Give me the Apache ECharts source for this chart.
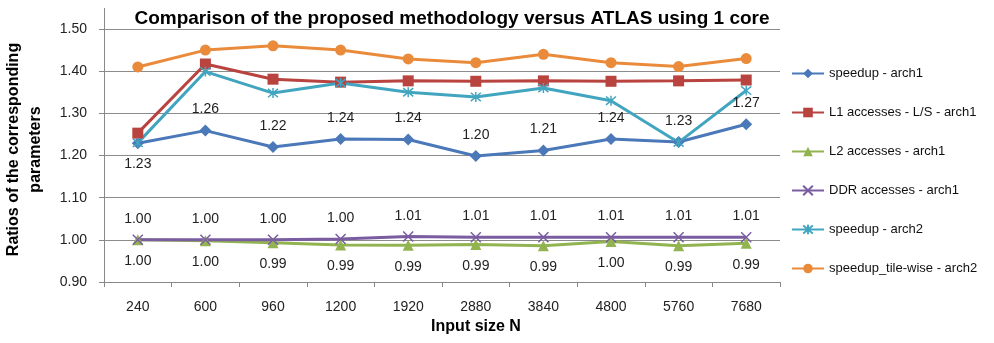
<!DOCTYPE html>
<html>
<head>
<meta charset="utf-8">
<script src="https://cdn.jsdelivr.net/npm/echarts@6/dist/echarts.min.js"></script>
<style>html,body{margin:0;padding:0;background:#fff}#c{width:994px;height:343px}</style>
</head>
<body>
<div id="c"></div>
<script>
const categories = ['240','600','960','1200','1920','2880','3840','4800','5760','7680'];
const speedupArch1 = [1.229,1.259,1.220,1.239,1.238,1.199,1.212,1.239,1.232,1.274];
const l1Arch1 = [1.253,1.417,1.381,1.374,1.377,1.376,1.377,1.376,1.377,1.379];
const l2Arch1 = [1.000,0.998,0.993,0.988,0.987,0.989,0.986,0.996,0.986,0.992];
const ddrArch1 = [1.000,1.000,1.000,1.002,1.008,1.006,1.006,1.006,1.006,1.006];
const speedupArch2 = [1.230,1.399,1.348,1.372,1.350,1.339,1.360,1.330,1.231,1.354];
const tileArch2 = [1.410,1.450,1.460,1.450,1.429,1.420,1.440,1.420,1.411,1.430];
const seriesNames = ['speedup - arch1','L1 accesses - L/S - arch1','L2 accesses - arch1','DDR accesses - arch1','speedup - arch2','speedup_tile-wise - arch2'];
const yTicks = {min:0.9, max:1.5, interval:0.1};

const FONT = '"Liberation Sans", Arial, sans-serif';
const colors = ['#4A78B8','#B8433F','#92B450','#7A5CA0','#42A5C0','#EA8B3C'];
const xPath = 'path://M0,0L10,10M10,0L0,10';
const starPath = 'path://M0,0L10,10M10,0L0,10M5,-1L5,11';

const lbl = {show:true, fontFamily:FONT, fontSize:14, color:'#222', formatter:p=>p.value.toFixed(2)};

const chart = echarts.init(document.getElementById('c'), null, {renderer:'canvas'});
chart.setOption({
  animation:false,
  color:colors,
  title:{text:'Comparison of the proposed methodology versus ATLAS using 1 core', left:447, top:4, textAlign:'center',
    textStyle:{fontFamily:FONT, fontSize:19, fontWeight:'bold', color:'#000'}},
  grid:{left:104, right:214, top:29, bottom:61, containLabel:false, outerBoundsMode:'none'},
  legend:{orient:'vertical', left:786, top:62, itemGap:26, itemWidth:32, itemHeight:12,
    textStyle:{fontFamily:FONT, fontSize:13, color:'#111'}, data:seriesNames},
  xAxis:{type:'category', data:categories, boundaryGap:true,
    name:'Input size N', nameLocation:'middle', nameGap:35,
    nameTextStyle:{fontFamily:FONT, fontSize:16, fontWeight:'bold', color:'#000', padding:[0,0,0,68]},
    axisLine:{lineStyle:{color:'#888', width:1}},
    axisTick:{show:true, length:5, lineStyle:{color:'#888'}},
    axisLabel:{fontFamily:FONT, fontSize:14, color:'#222', margin:18}},
  yAxis:{type:'value', min:yTicks.min, max:yTicks.max, interval:yTicks.interval,
    name:'Ratios of the corresponding\nparameters', nameLocation:'middle', nameGap:57, nameRotate:90,
    nameTextStyle:{fontFamily:FONT, fontSize:16, fontWeight:'bold', color:'#000', lineHeight:22, padding:[0,0,0,12]},
    axisLine:{show:true, lineStyle:{color:'#888'}},
    axisTick:{show:true, length:5, lineStyle:{color:'#888'}},
    splitLine:{lineStyle:{color:'#8c8c8c', width:1}},
    axisLabel:{fontFamily:FONT, fontSize:14, color:'#222', margin:17, formatter:v=>v.toFixed(2)}},
  series:[
    {name:seriesNames[0], type:'line', data:speedupArch1.map((v,i)=>({value:v, label:{position: i===0?'bottom':'top'}})),
     symbol:'diamond', symbolSize:12, lineStyle:{width:3}, label:Object.assign({distance:8}, lbl)},
    {name:seriesNames[1], type:'line', data:l1Arch1, symbol:'rect', symbolSize:11, lineStyle:{width:3}},
    {name:seriesNames[2], type:'line', data:l2Arch1, symbol:'triangle', symbolSize:11, lineStyle:{width:3},
     label:Object.assign({position:'bottom', distance:9}, lbl)},
    {name:seriesNames[3], type:'line', data:ddrArch1, symbol:xPath, symbolSize:10, lineStyle:{width:3},
     itemStyle:{borderColor:colors[3], borderWidth:1.5}, label:Object.assign({position:'top', distance:8}, lbl)},
    {name:seriesNames[4], type:'line', data:speedupArch2, symbol:starPath, symbolSize:10, lineStyle:{width:3},
     itemStyle:{borderColor:colors[4], borderWidth:1.5}},
    {name:seriesNames[5], type:'line', data:tileArch2, symbol:'circle', symbolSize:11, lineStyle:{width:3}}
  ]
});
// extend the value axis line above the top gridline, as in the original plot area
const yTopPx = chart.convertToPixel({yAxisIndex:0}, yTicks.max);
const c0 = chart.convertToPixel({xAxisIndex:0}, 0), c1 = chart.convertToPixel({xAxisIndex:0}, 1);
const axisX = Math.round(c0 - (c1 - c0) / 2) + 0.5;
chart.setOption({graphic:[{type:'line', shape:{x1:axisX, y1:yTopPx-21, x2:axisX, y2:yTopPx}, style:{stroke:'#888', lineWidth:1}, z:1}]});
</script>
</body>
</html>
